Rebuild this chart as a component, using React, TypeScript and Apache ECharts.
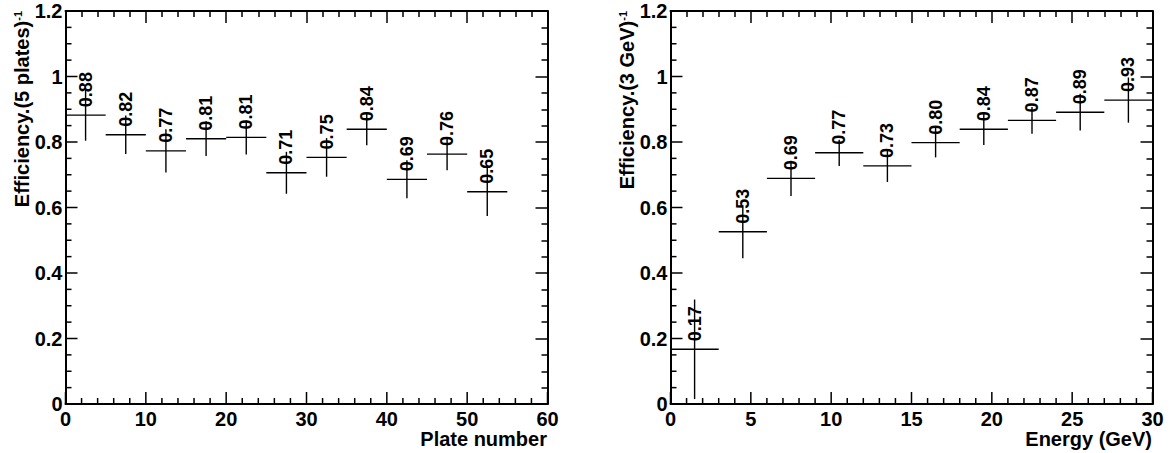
import React, { useEffect, useRef } from "react";
import * as echarts from "echarts";

// Left panel: efficiency per 5 plates
const plateCenters = [2.5, 7.5, 12.5, 17.5, 22.5, 27.5, 32.5, 37.5, 42.5, 47.5, 52.5];
const plateEff = [0.882, 0.822, 0.773, 0.81, 0.814, 0.706, 0.753, 0.839, 0.686, 0.763, 0.648];
const plateErr = [0.078, 0.059, 0.066, 0.053, 0.052, 0.064, 0.059, 0.049, 0.058, 0.049, 0.074];
const plateHalfWidth = 2.5;

// Right panel: efficiency per 3 GeV
const energyCenters = [1.5, 4.5, 7.5, 10.5, 13.5, 16.5, 19.5, 22.5, 25.5, 28.5];
const energyEff = [0.167, 0.526, 0.689, 0.767, 0.727, 0.798, 0.839, 0.866, 0.891, 0.928];
const energyErr = [0.152, 0.081, 0.054, 0.04, 0.049, 0.045, 0.048, 0.041, 0.056, 0.069];
const energyHalfWidth = 1.5;

// Tick values for the inward ticks on the bottom and left frame edges
const plateMajorTicks = [0, 10, 20, 30, 40, 50, 60];
const plateMinorTicks = [2, 4, 6, 8, 12, 14, 16, 18, 22, 24, 26, 28, 32, 34, 36, 38, 42, 44, 46, 48, 52, 54, 56, 58];
const energyMajorTicks = [0, 5, 10, 15, 20, 25, 30];
const energyMinorTicks = [1, 2, 3, 4, 6, 7, 8, 9, 11, 12, 13, 14, 16, 17, 18, 19, 21, 22, 23, 24, 26, 27, 28, 29];
const effMajorTicks = [0, 0.2, 0.4, 0.6, 0.8, 1.0, 1.2];
const effMinorTicks = [0.05, 0.1, 0.15, 0.25, 0.3, 0.35, 0.45, 0.5, 0.55, 0.65, 0.7, 0.75, 0.85, 0.9, 0.95, 1.05, 1.1, 1.15];

const FONT = "Liberation Sans";
const GRID_W = 482;
const GRID_H = 393;
const MAJOR = 12;
const MINOR = 6;

function makeData(c: number[], v: number[], e: number[], hw: number) {
  return c.map((x, i) => [x, v[i], e[i], hw]);
}

const renderItem = (params: any, api: any) => {
  const x = api.value(0);
  const y = api.value(1);
  const e = api.value(2);
  const hw = api.value(3);
  const p = api.coord([x, y]);
  const pl = api.coord([x - hw, y]);
  const pr = api.coord([x + hw, y]);
  const pt = api.coord([x, y + e]);
  const pb = api.coord([x, y - e]);
  return {
    type: "group",
    children: [
      { type: "line", shape: { x1: pl[0], y1: pl[1], x2: pr[0], y2: pr[1] }, style: { stroke: "#000", lineWidth: 1.4 } },
      { type: "line", shape: { x1: pt[0], y1: pt[1], x2: pb[0], y2: pb[1] }, style: { stroke: "#000", lineWidth: 1.4 } },
      {
        type: "text",
        x: p[0],
        y: p[1] - 8,
        rotation: Math.PI / 2,
        style: {
          text: Number(y).toFixed(2),
          fill: "#000",
          font: `bold 18px ${FONT}`,
          align: "left",
          verticalAlign: "middle",
        },
      },
    ],
  };
};

const BLACK_LINE = { color: "#000", width: 2 };
const TICK_LINE = { color: "#000", width: 1.5 };

function xAxes(gridIndex: number, max: number, interval: number) {
  const common = {
    type: "value",
    gridIndex,
    min: 0,
    max,
    interval,
    splitLine: { show: false },
    position: "bottom",
  };
  return [
    {
      ...common,
      axisLine: { show: true, onZero: false, lineStyle: BLACK_LINE },
      axisTick: { show: false },
      axisLabel: { show: true, color: "#000", fontSize: 20, fontWeight: "bold", fontFamily: FONT, margin: 5 },
    },
    {
      // top frame with ticks pointing down
      ...common,
      offset: -GRID_H,
      axisLabel: { show: false },
      axisLine: { show: true, onZero: false, lineStyle: BLACK_LINE },
      axisTick: { show: true, length: MAJOR, lineStyle: TICK_LINE },
      minorTick: { show: true, splitNumber: 5, length: MINOR, lineStyle: TICK_LINE },
    },
  ];
}

function yAxes(gridIndex: number) {
  const common = {
    type: "value",
    gridIndex,
    min: 0,
    max: 1.2,
    interval: 0.2,
    splitLine: { show: false },
    position: "left",
  };
  return [
    {
      ...common,
      axisLine: { show: true, onZero: false, lineStyle: BLACK_LINE },
      axisTick: { show: false },
      axisLabel: { show: true, color: "#000", fontSize: 20, fontWeight: "bold", fontFamily: FONT, margin: 3 },
    },
    {
      // right frame with ticks pointing left
      ...common,
      offset: -GRID_W,
      axisLabel: { show: false },
      axisLine: { show: true, onZero: false, lineStyle: BLACK_LINE },
      axisTick: { show: true, length: MAJOR, lineStyle: TICK_LINE },
      minorTick: { show: true, splitNumber: 4, length: MINOR, lineStyle: TICK_LINE },
    },
  ];
}

function yTitle(x: number, main: string) {
  return {
    type: "text",
    x,
    y: 11,
    rotation: Math.PI / 2,
    style: {
      text: `{m|${main}}{s|-1}`,
      align: "right",
      verticalAlign: "middle",
      fill: "#000",
      rich: {
        m: { fontSize: 20, fontWeight: "bold", fontFamily: FONT, fill: "#000", lineHeight: 20 },
        s: { fontSize: 11, fontWeight: "bold", fontFamily: FONT, fill: "#000", verticalAlign: "top" },
      },
    },
  };
}

function xTitle(x: number, text: string) {
  return {
    type: "text",
    x,
    y: 439,
    style: {
      text,
      align: "right",
      verticalAlign: "middle",
      fill: "#000",
      font: `bold 20px ${FONT}`,
    },
  };
}

// Inward ticks on bottom/left edges, positioned by the chart's own coordinate conversion
function edgeTicks(chart: any, gridIndex: number, xMaj: number[], xMin: number[], yMaj: number[], yMin: number[]) {
  const out: any[] = [];
  const conv = (v: number[]) => chart.convertToPixel({ gridIndex }, v);
  const addX = (vals: number[], len: number) =>
    vals.forEach((v) => {
      const p = conv([v, 0]);
      out.push({
        type: "line",
        z: 100,
        shape: { x1: p[0], y1: p[1], x2: p[0], y2: p[1] - len },
        style: { stroke: "#000", lineWidth: 1.5 },
      });
    });
  const addY = (vals: number[], len: number) =>
    vals.forEach((v) => {
      const p = conv([0, v]);
      out.push({
        type: "line",
        z: 100,
        shape: { x1: p[0], y1: p[1], x2: p[0] + len, y2: p[1] },
        style: { stroke: "#000", lineWidth: 1.5 },
      });
    });
  addX(xMaj, MAJOR);
  addX(xMin, MINOR);
  addY(yMaj, MAJOR);
  addY(yMin, MINOR);
  return out;
}

export default function App() {
  const ref = useRef<HTMLDivElement>(null);
  useEffect(() => {
    if (!ref.current) return;
    const chart = echarts.init(ref.current, null, { renderer: "svg" });
    const titles = [
      yTitle(22, "Efficiency.(5 plates)"),
      yTitle(627, "Efficiency.(3 GeV)"),
      xTitle(547, "Plate number"),
      xTitle(1152, "Energy (GeV)"),
    ];
    chart.setOption({
      animation: false,
      backgroundColor: "#fff",
      grid: [
        { left: 65.5, top: 11, width: GRID_W, height: GRID_H, containLabel: false },
        { left: 670.5, top: 11, width: GRID_W, height: GRID_H, containLabel: false },
      ],
      xAxis: [...xAxes(0, 60, 10), ...xAxes(1, 30, 5)],
      yAxis: [...yAxes(0), ...yAxes(1)],
      series: [
        {
          type: "custom",
          xAxisIndex: 0,
          yAxisIndex: 0,
          renderItem,
          clip: false,
          data: makeData(plateCenters, plateEff, plateErr, plateHalfWidth),
        },
        {
          type: "custom",
          xAxisIndex: 2,
          yAxisIndex: 2,
          renderItem,
          clip: false,
          data: makeData(energyCenters, energyEff, energyErr, energyHalfWidth),
        },
      ],
      graphic: titles,
    });
    const ticks = [
      ...edgeTicks(chart, 0, plateMajorTicks, plateMinorTicks, effMajorTicks, effMinorTicks),
      ...edgeTicks(chart, 1, energyMajorTicks, energyMinorTicks, effMajorTicks, effMinorTicks),
    ];
    chart.setOption({ graphic: [...titles, ...ticks] });
    return () => chart.dispose();
  }, []);
  return (
    <div
      ref={ref}
      style={{ position: "fixed", left: 0, top: 0, width: 1170, height: 453, background: "#fff" }}
    />
  );
}
